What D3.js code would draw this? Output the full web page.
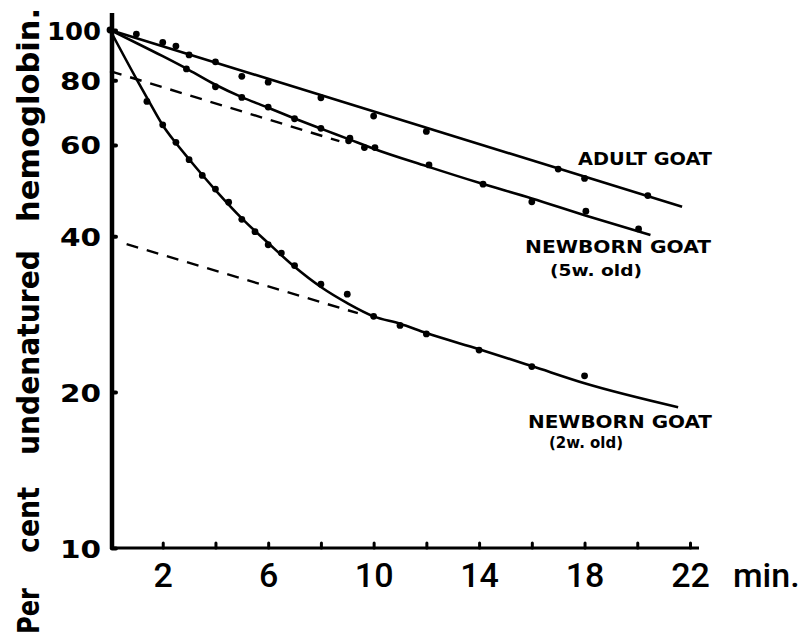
<!DOCTYPE html>
<html>
<head>
<meta charset="utf-8">
<script src="https://cdn.jsdelivr.net/npm/d3@7"></script>
<style>
  html, body { margin: 0; padding: 0; background: #fff; }
  svg { display: block; }
</style>
</head>
<body>
<svg id="chart" width="804" height="636"></svg>
<script>
// ---------- data ----------
const xTickValues = [2, 4, 6, 8, 10, 12, 14, 16, 18, 20, 22];
const xTickLabels = [2, 6, 10, 14, 18, 22];
const yTickValues = [10, 20, 40, 60, 80, 100];

// Adult goat: measured points and fitted line
const adultT = [1, 2, 2.5, 3, 4, 5, 6, 8, 10, 12, 17, 18, 20.4];
const adultV = [98.2, 94.6, 93.1, 89.5, 86.8, 81.4, 79.3, 74.0, 68.2, 63.7, 53.9, 51.7, 47.9];
const adultLineT = [0, 21.7];
const adultLineV = [100, 45.6];

// Newborn goat, 5 weeks old
const w5T = [2.9, 4, 5, 6, 7, 8, 9.1, 9.05, 9.65, 10.05, 12.1, 14.15, 16, 18.05, 20.05];
const w5V = [84.1, 77.7, 74.1, 71.0, 67.4, 64.6, 61.8, 61.1, 59.3, 59.3, 54.9, 50.4, 46.6, 44.7, 41.3];
const w5CurveT = [0, 1, 2, 3, 4, 5, 6, 7, 8, 9, 10, 12, 14, 16, 18, 20.5];
const w5CurveV = [100, 94.4, 89, 83.7, 78.4, 74.2, 70.8, 67.5, 64.5, 61.7, 59, 54.6, 50.7, 47.3, 43.9, 40.2];
const w5DashT = [0, 8.7];
const w5DashV = [83.3, 61];

// Newborn goat, 2 weeks old
const w2T = [1.4, 2, 2.5, 3, 3.5, 4, 4.5, 5, 5.5, 6, 6.5, 7, 8, 9, 10, 11, 12, 14, 16, 18];
const w2V = [72.8, 65.6, 60.7, 56.2, 52.4, 49.3, 46.5, 43.1, 40.8, 38.5, 37.1, 35.1, 32.3, 30.9, 28.0, 26.9, 25.9, 24.1, 22.4, 21.5];
const w2CurveT = [0, 1, 1.5, 2, 2.5, 3, 4, 5, 6, 7, 8, 9, 10, 11, 12, 14, 16, 18, 21.55];
const w2CurveV = [100, 80.5, 72.5, 65.5, 60.5, 56.3, 49.1, 43.3, 38.8, 34.9, 31.9, 29.7, 28.0, 27.1, 26.0, 24.2, 22.45, 20.8, 18.7];
const w2DashT = [0.63, 9.4];
const w2DashV = [38.6, 28.4];

const originT = [0];
const originV = [100];

// ---------- drawing ----------
const svg = d3.select("#chart");
const x = d3.scaleLinear().domain([0, 22]).range([110, 690]);
const y = d3.scaleLog().domain([10, 100]).range([548, 30]);

const zip = (ts, vs) => ts.map((t, i) => [t, vs[i]]);
const line = d3.line().x(d => x(d[0])).y(d => y(d[1]));
const smooth = d3.line().x(d => x(d[0])).y(d => y(d[1])).curve(d3.curveMonotoneX);

// x axis
const xAxis = d3.axisBottom(x)
  .tickValues(xTickValues)
  .tickSizeInner(-5).tickSizeOuter(0)
  .tickFormat(d => xTickLabels.includes(d) ? d : "");
const gx = svg.append("g").attr("transform", "translate(0,548)").call(xAxis);
gx.select(".domain").attr("d", `M${x(0)},0H699`).attr("stroke", "#000").attr("stroke-width", 3.2);
gx.selectAll(".tick line").attr("stroke", "#000").attr("stroke-width", 3).attr("stroke-linecap", "round");
gx.selectAll(".tick text")
  .attr("y", 39).attr("dy", 0)
  .attr("font-family", "Roboto, sans-serif").attr("font-weight", 500)
  .attr("font-size", 34).attr("fill", "#000");
svg.append("text").attr("x", 733).attr("y", 587)
  .attr("font-family", "Roboto, sans-serif").attr("font-weight", 500)
  .attr("font-size", 34).text("min.");

// y axis
const yAxis = d3.axisLeft(y)
  .tickValues(yTickValues)
  .tickSizeInner(-4).tickSizeOuter(0)
  .tickFormat(d3.format("d"));
const gy = svg.append("g").attr("transform", "translate(112,0)").call(yAxis);
gy.select(".domain").attr("d", "M0,13V549").attr("stroke", "#000").attr("stroke-width", 4.5);
gy.selectAll(".tick line").attr("stroke", "#000").attr("stroke-width", 4).attr("stroke-linecap", "round");
gy.selectAll(".tick text")
  .attr("x", -11).attr("dy", "0.36em")
  .attr("font-family", "'DejaVu Sans', sans-serif").attr("font-weight", "bold")
  .attr("font-size", 25).attr("fill", "#000")
  .attr("textLength", d => String(d).length === 3 ? 54 : 41)
  .attr("lengthAdjust", "spacingAndGlyphs");

// y axis title, word by word
const titleWords = [
  { w: "Per", bottom: 634, top: 588 },
  { w: "cent", bottom: 553, top: 487 },
  { w: "undenatured", bottom: 455, top: 250 },
  { w: "hemoglobin.", bottom: 222, top: 8 }
];
titleWords.forEach(o => {
  svg.append("text")
    .attr("transform", `translate(39,${o.bottom}) rotate(-90)`)
    .attr("font-family", "'DejaVu Sans', sans-serif").attr("font-weight", "bold")
    .attr("font-size", 30)
    .attr("textLength", o.bottom - o.top).attr("lengthAdjust", "spacingAndGlyphs")
    .text(o.w);
});

// lines
const plot = svg.append("g").attr("fill", "none").attr("stroke", "#000");
plot.append("path").attr("d", line(zip(adultLineT, adultLineV))).attr("stroke-width", 2.6);
plot.append("path").attr("d", smooth(zip(w5CurveT, w5CurveV))).attr("stroke-width", 2.6);
plot.append("path").attr("d", smooth(zip(w2CurveT, w2CurveV))).attr("stroke-width", 2.6);
plot.append("path").attr("d", line(zip(w5DashT, w5DashV))).attr("stroke-width", 2.4).attr("stroke-dasharray", "12,9");
plot.append("path").attr("d", line(zip(w2DashT, w2DashV))).attr("stroke-width", 2.4).attr("stroke-dasharray", "12,9");

// points
const dots = svg.append("g").attr("fill", "#000");
[[adultT, adultV], [w5T, w5V], [w2T, w2V], [originT, originV]].forEach(([ts, vs]) => {
  dots.selectAll(null).data(zip(ts, vs)).join("circle")
    .attr("cx", d => x(d[0])).attr("cy", d => y(d[1])).attr("r", 3.4);
});

// series labels
const labels = [
  { t: "ADULT GOAT", x: 578, y: 165, len: 134, fs: 17 },
  { t: "NEWBORN GOAT", x: 525, y: 253, len: 186, fs: 17 },
  { t: "(5w. old)", x: 550, y: 276, len: 92, fs: 15 },
  { t: "NEWBORN GOAT", x: 528, y: 428, len: 184, fs: 17 },
  { t: "(2w. old)", x: 549, y: 448, len: 74, fs: 15 }
];
labels.forEach(o => {
  svg.append("text").attr("x", o.x).attr("y", o.y)
    .attr("font-family", "'DejaVu Sans', sans-serif").attr("font-weight", "bold")
    .attr("font-size", o.fs)
    .attr("textLength", o.len).attr("lengthAdjust", "spacingAndGlyphs")
    .text(o.t);
});
</script>
</body>
</html>
